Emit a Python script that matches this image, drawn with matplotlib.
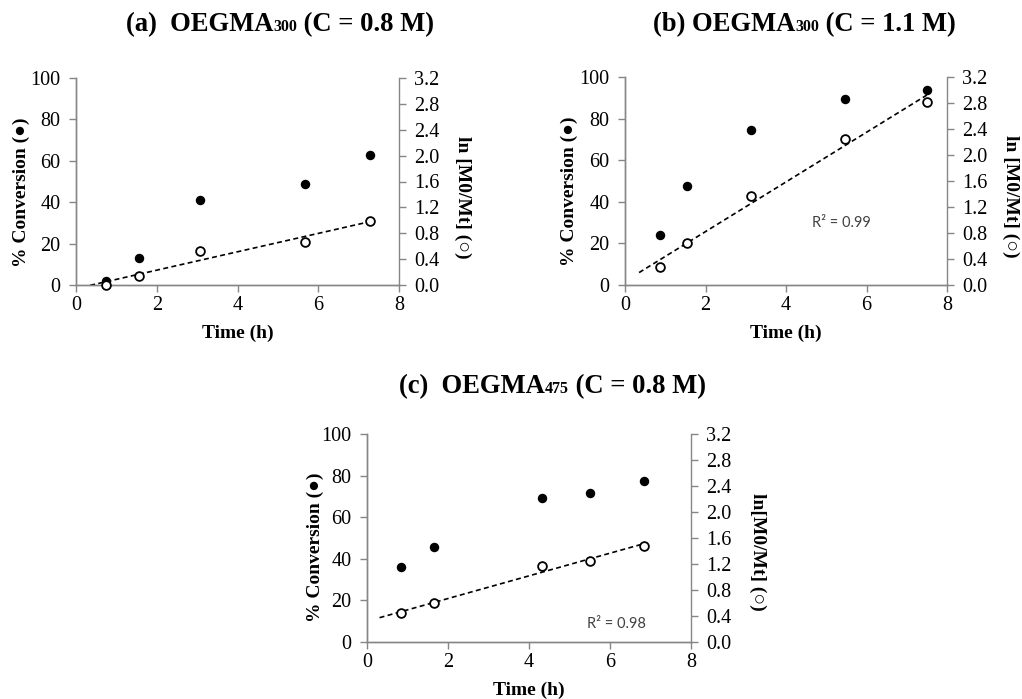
import numpy as np
import matplotlib
matplotlib.use("Agg")
import matplotlib.pyplot as plt

plt.rcParams['font.family'] = ['Liberation Serif', 'DejaVu Sans']

# data
title_head = ["(a)  OEGMA", "(b) OEGMA", "(c)  OEGMA"]
title_sub = ["300", "300", "475"]
title_tail = [" (C = 0.8 M)", " (C = 1.1 M)", " (C = 0.8 M)"]
right_labels = ["ln [M0/Mt] (○)", "ln [M0/Mt] (○)", "ln[M0/Mt] (○)"]
time_a = [0.75, 1.56, 3.08, 5.66, 7.28]
time_b = [0.87, 1.53, 3.12, 5.47, 7.50]
time_c = [0.83, 1.66, 4.33, 5.50, 6.83]
conv_a = [1.8, 13, 41, 49, 63]
conv_b = [23.9, 47.4, 74.7, 89.6, 93.9]
conv_c = [36.2, 45.6, 69.1, 71.5, 77.4]
ln_a = [0.0, 0.14, 0.53, 0.67, 0.99]
ln_b = [0.28, 0.64, 1.37, 2.25, 2.81]
ln_c = [0.44, 0.60, 1.17, 1.25, 1.48]
trend_start = [0.35, 0.35, 0.31]
r2_text = [None, "R² = 0.99", "R² = 0.98"]

times = [time_a, time_b, time_c]
convs = [conv_a, conv_b, conv_c]
lns = [ln_a, ln_b, ln_c]

# layout (pixels of a 1022x699 canvas)
W, H = 1022, 699
boxes = [(76, 78, 399, 285), (625, 77, 947, 285), (367, 434, 691, 642)]
title_start = [(126, 31), (653, 31), (399, 393)]
left_lab = [(-0.170, 0.449), (-0.174, 0.449), (-0.160, 0.457)]
right_lab = [(1.198, 0.425), (1.199, 0.425), (1.207, 0.433)]
r2_pos = [None, (5.38, 29.8), (6.15, 8.8)]

grey = '#868686'
big, small = 19.2, 11.5
lift = 0.216 * (big - small)

fig = plt.figure(figsize=(W / 100, H / 100), dpi=100)

for i in range(3):
    x0, y0, x1, y1 = boxes[i]
    ax = fig.add_axes([x0 / W, 1 - y1 / H, (x1 - x0) / W, (y1 - y0) / H])
    ax2 = ax.twinx()

    ax.plot(times[i], convs[i], 'o', color='black', ms=5.8, clip_on=False, zorder=3)
    ax2.plot(times[i], lns[i], 'o', mfc='white', mec='black', mew=1.3, ms=6.3,
             clip_on=False, zorder=3)

    k, b = np.polyfit(times[i], lns[i], 1)
    xs = np.array([trend_start[i], times[i][-1]])
    ax2.plot(xs, k * xs + b, color='black', lw=1.2, ls=(0, (3, 2)), zorder=2)

    ax.set_xlim(0, 8)
    ax.set_ylim(0, 100)
    ax2.set_ylim(0, 3.2)
    ax.set_xticks(np.arange(0, 9, 2))
    ax.set_yticks(np.arange(0, 101, 20))
    ax2.set_yticks(np.arange(0, 3.21, 0.4))
    ax2.set_yticklabels([f"{v:.1f}" for v in np.arange(0, 3.21, 0.4)])

    for a in (ax, ax2):
        a.set_facecolor('none')
        a.spines['top'].set_visible(False)
        for s in ('left', 'right', 'bottom'):
            a.spines[s].set_color(grey)
            a.spines[s].set_linewidth(1.0)
        a.tick_params(axis='both', direction='out', length=5, width=1.0,
                      color=grey, labelsize=14.5, labelcolor='black')
        a.tick_params(axis='y', pad=6)
        a.tick_params(axis='x', pad=3)
    ax.spines['right'].set_visible(False)

    ax.set_xlabel("Time (h)", fontsize=14, fontweight='bold', va='center')
    ax.xaxis.set_label_coords(0.5, -0.232)
    ax.set_ylabel("% Conversion (●)", fontsize=14, fontweight='bold',
                  va='center', ha='center')
    ax.yaxis.set_label_coords(*left_lab[i])
    ax2.set_ylabel(right_labels[i], fontsize=14, fontweight='bold', rotation=270,
                   va='center', ha='center')
    ax2.yaxis.set_label_coords(*right_lab[i])

    if r2_text[i]:
        ax.text(r2_pos[i][0], r2_pos[i][1], r2_text[i], family='Lato',
                fontsize=10.5, color='#404040', ha='center', va='center')

    # title: head, small number sitting on the baseline, tail
    tx, ty = title_start[i]
    t1 = fig.text(tx / W, 1 - ty / H, title_head[i], fontsize=big,
                  fontweight='bold', ha='left', va='baseline')
    t2 = ax.annotate(title_sub[i], xy=(1, 0), xycoords=t1, xytext=(0, lift),
                     textcoords='offset points', fontsize=small, fontweight='bold',
                     ha='left', va='bottom', annotation_clip=False)
    ax.annotate(title_tail[i], xy=(1, 0), xycoords=t2, xytext=(0, -lift),
                textcoords='offset points', fontsize=big, fontweight='bold',
                ha='left', va='bottom', annotation_clip=False)

fig.savefig("out.png", dpi=100)
